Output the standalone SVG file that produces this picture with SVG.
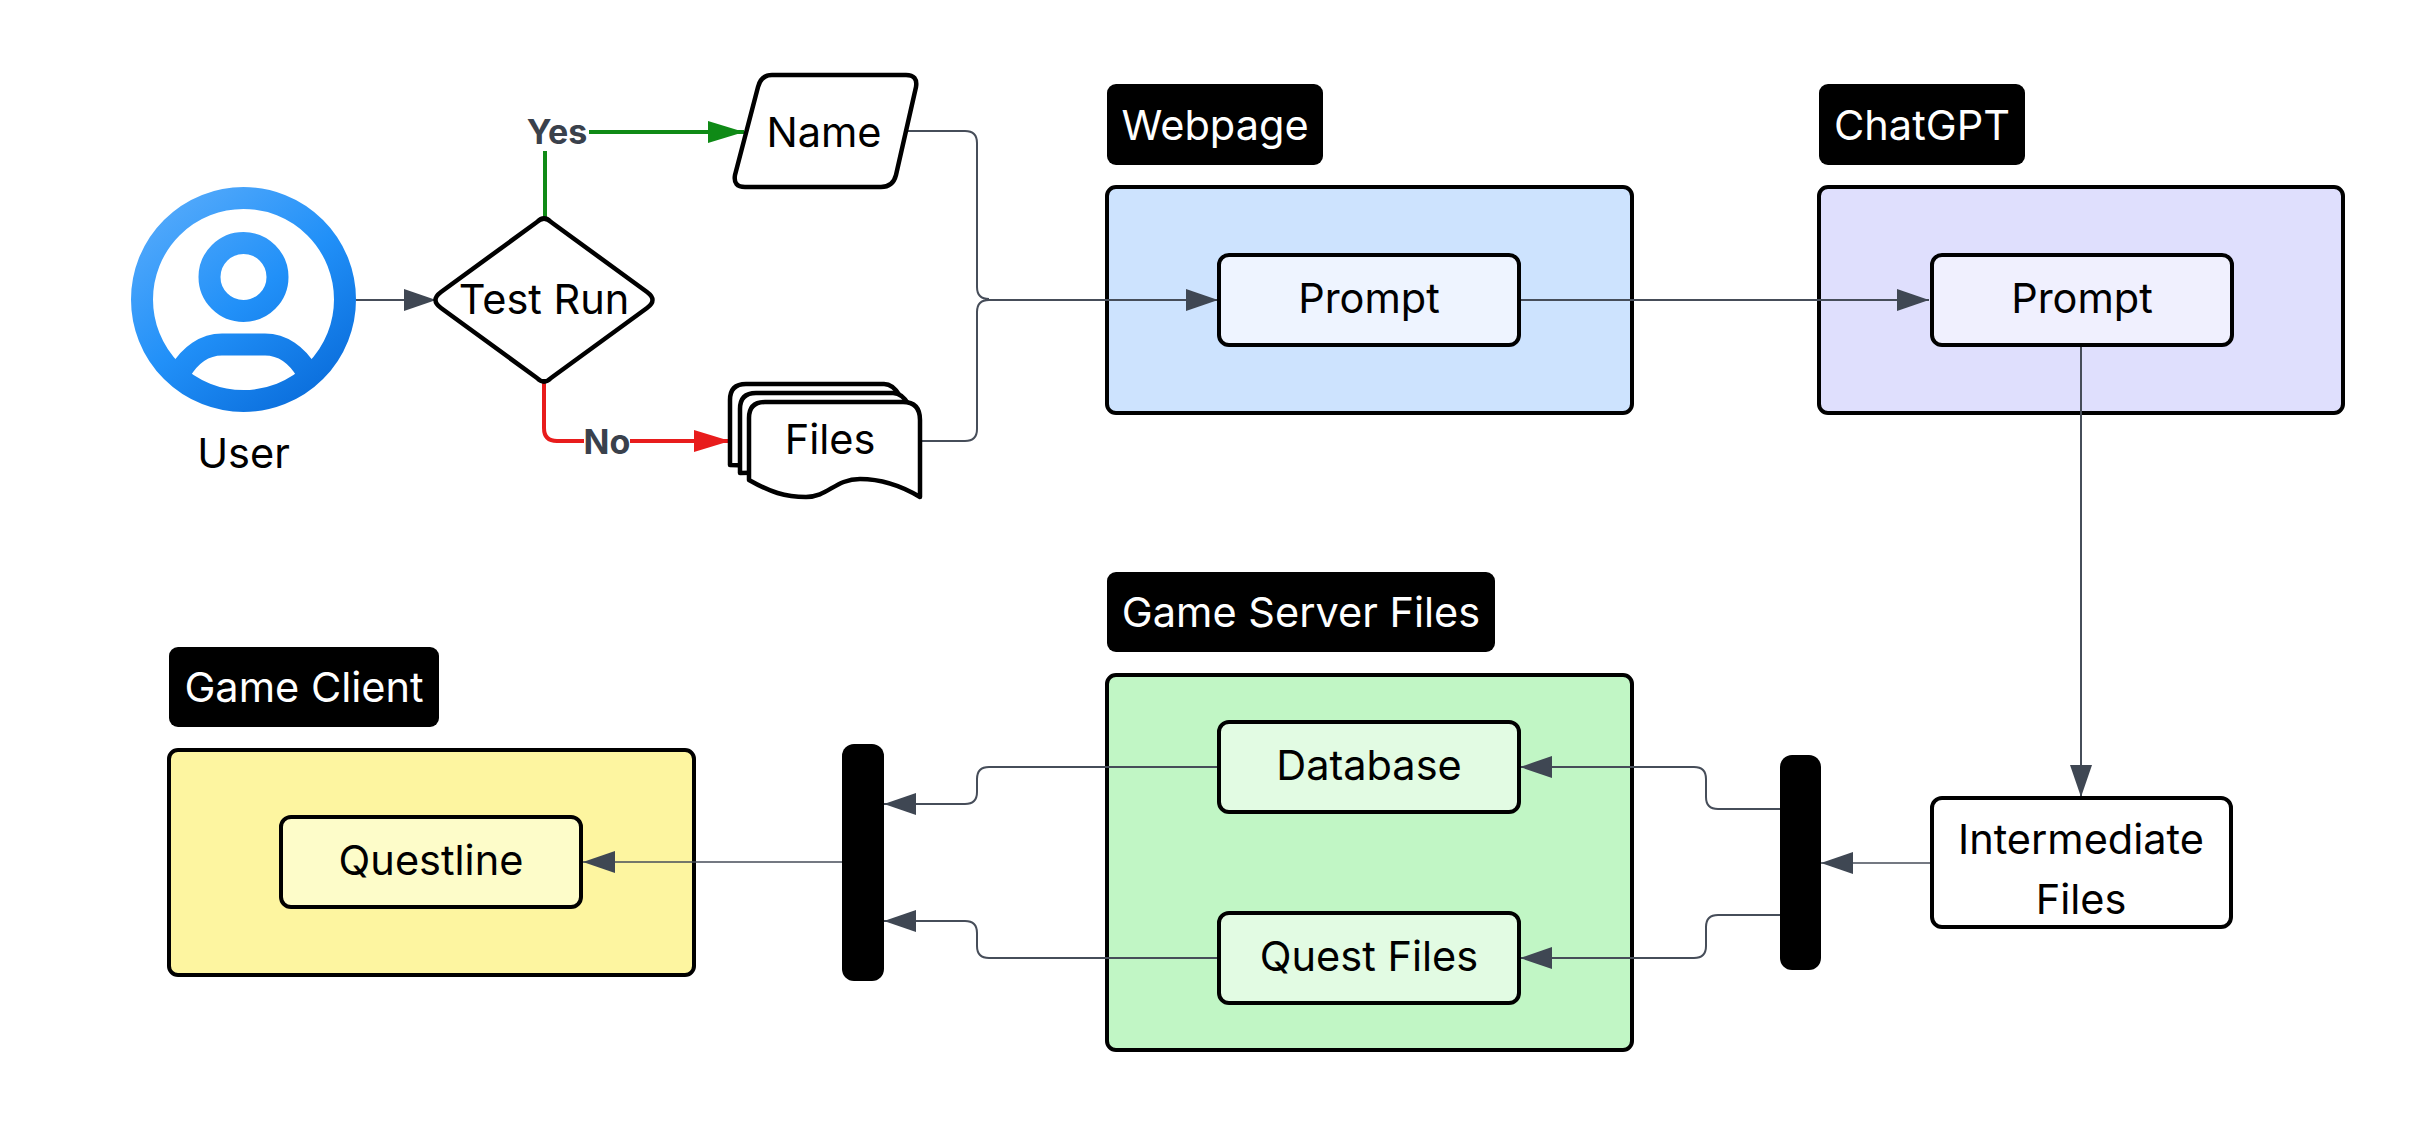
<svg xmlns="http://www.w3.org/2000/svg" width="2419" height="1125" viewBox="0 0 2419 1125">
<style>
text{font-family:Inter,"Noto Sans","Liberation Sans",sans-serif;font-size:41.500px;fill:#000;text-anchor:middle;dominant-baseline:central}
.t{fill:#fff}
.e{font-weight:700;font-size:34px;fill:#3a414c}
.lab{fill:#000}
.box{stroke:#000;stroke-width:4}
.shp{fill:#fff;stroke:#000;stroke-width:4.500;stroke-linejoin:round}
.c{fill:none;stroke:#464d59;stroke-width:2}
.th{stroke-width:1.500}
.u{fill:none;stroke:url(#ug);stroke-width:22}
</style>
<defs>
<linearGradient id="ug" gradientUnits="userSpaceOnUse" x1="170" y1="200" x2="320" y2="400"><stop offset="0" stop-color="#52a9fb"/><stop offset="0.5" stop-color="#2190f8"/><stop offset="1" stop-color="#0a6ddb"/></linearGradient>
<marker id="ag" markerUnits="userSpaceOnUse" markerWidth="32" markerHeight="22" refX="32" refY="11" orient="auto"><path d="M0 0L32 11L0 22Z" fill="#3f4753"/></marker>
<marker id="agr" markerUnits="userSpaceOnUse" markerWidth="36" markerHeight="22" refX="36" refY="11" orient="auto"><path d="M0 0L36 11L0 22Z" fill="#0f8a16"/></marker>
<marker id="ard" markerUnits="userSpaceOnUse" markerWidth="36" markerHeight="22" refX="36" refY="11" orient="auto"><path d="M0 0L36 11L0 22Z" fill="#e81c1c"/></marker>
</defs>
<rect width="2419" height="1125" fill="#fff"/>

<g id="groups">
<g id="webpage-group"><rect class="lab" x="1107" y="84" width="216" height="81" rx="9"/><text class="t" x="1215" y="125">Webpage</text><rect class="box" x="1107" y="187" width="525" height="226" rx="9" fill="#cde3fe"/></g>
<g id="chatgpt-group"><rect class="lab" x="1819" y="84" width="206" height="81" rx="9"/><text class="t" x="1922" y="125">ChatGPT</text><rect class="box" x="1819" y="187" width="524" height="226" rx="9" fill="#dfdffd"/></g>
<g id="server-group"><rect class="lab" x="1107" y="572" width="388" height="80" rx="9"/><text class="t" x="1301" y="612">Game Server Files</text><rect class="box" x="1107" y="675" width="525" height="375" rx="9" fill="#c1f6c5"/></g>
<g id="client-group"><rect class="lab" x="169" y="647" width="270" height="80" rx="9"/><text class="t" x="304" y="687">Game Client</text><rect class="box" x="169" y="750" width="525" height="225" rx="9" fill="#fdf5a0"/></g>
</g>

<g id="connectors">
<path class="c" marker-end="url(#ag)" d="M356 300H436"/>
<path class="c" style="stroke:#0f8a16;stroke-width:4" marker-end="url(#agr)" d="M545 218V132H744"/>
<path class="c" style="stroke:#e81c1c;stroke-width:4" marker-end="url(#ard)" d="M544 382V428Q544 441 557 441H730"/>
<path class="c" d="M906 131H965Q977 131 977 143V287Q977 299 989 299"/>
<path class="c" d="M921 441H965Q977 441 977 429V312Q977 300 989 300"/>
<path class="c" marker-end="url(#ag)" d="M985 300H1218"/>
<path class="c" marker-end="url(#ag)" d="M1519 300H1929"/>
<path class="c" marker-end="url(#ag)" d="M2081 346V797"/>
<path class="c th" marker-end="url(#ag)" d="M1931 863H1821"/>
<path class="c" marker-end="url(#ag)" d="M1780 809H1718Q1706 809 1706 797V779Q1706 767 1694 767H1520"/>
<path class="c" marker-end="url(#ag)" d="M1780 915H1718Q1706 915 1706 927V946Q1706 958 1694 958H1520"/>
<path class="c" marker-end="url(#ag)" d="M1217 767H989Q977 767 977 779V792Q977 804 965 804H884"/>
<path class="c" marker-end="url(#ag)" d="M1217 958H989Q977 958 977 946V933Q977 921 965 921H884"/>
<path class="c th" marker-end="url(#ag)" d="M842 862H583"/>
</g>

<g id="edge-labels">
<g id="label-yes"><rect x="527" y="112" width="62" height="39" fill="#fff"/><text class="e" x="557" y="131">Yes</text></g>
<g id="label-no"><rect x="584" y="424" width="46" height="34" fill="#fff"/><text class="e" x="607" y="441">No</text></g>
</g>

<g id="user">
<circle class="u" cx="243.5" cy="299.5" r="101.5"/>
<circle class="u" cx="243.5" cy="277" r="34"/>
<path class="u" d="M180 372C190 355 205 344.5 222 344.5H265C282 344.5 297 355 307 372"/>
<text x="243.500" y="453">User</text>
</g>
<g id="test-run"><path class="shp" d="M537 222Q544 215 551 222L647 292Q658 300 647 308L551 378Q544 385 537 378L441 308Q430 300 441 292Z"/><text x="544" y="299">Test Run</text></g>
<g id="name"><path class="shp" d="M772 75H906Q918 75 916 87L896 175Q893 187 881 187H745Q733 187 735 175L758 87Q761 75 772 75Z"/><text x="824" y="132">Name</text></g>
<g id="files">
<path class="shp" d="M730 465V400Q730 384 746 384H884Q893 384 900 396V470L730 465Z"/>
<path class="shp" d="M740 473V409Q740 393 756 393H893Q902 393 909 405V470L740 473Z"/>
<path class="shp" d="M749 480V418Q749 402 765 402H903Q920 402 920 420V497C905 488 885 479 860 479C835 479 828 497 806 497C785 497 770 492 749 480Z"/>
<text x="830" y="439">Files</text>
</g>
<g id="prompt-1"><rect class="box" x="1219" y="255" width="300" height="90" rx="10" fill="#eef4ff"/><text x="1369" y="298">Prompt</text></g>
<g id="prompt-2"><rect class="box" x="1932" y="255" width="300" height="90" rx="10" fill="#f0f0fe"/><text x="2082" y="298">Prompt</text></g>
<g id="intermediate"><rect class="box" x="1932" y="798" width="299" height="129" rx="10" fill="#fff"/><text x="2081" y="839">Intermediate</text><text x="2081" y="899">Files</text></g>
<g id="bar-right"><rect x="1780" y="755" width="41" height="215" rx="12" fill="#000"/></g>
<g id="database"><rect class="box" x="1219" y="722" width="300" height="90" rx="10" fill="#e2fbe3"/><text x="1369" y="765">Database</text></g>
<g id="quest-files"><rect class="box" x="1219" y="913" width="300" height="90" rx="10" fill="#e2fbe3"/><text x="1369" y="956">Quest Files</text></g>
<g id="bar-left"><rect x="842" y="744" width="42" height="237" rx="12" fill="#000"/></g>
<g id="questline"><rect class="box" x="281" y="817" width="300" height="90" rx="10" fill="#fdfcc9"/><text x="431" y="860">Questline</text></g>
</svg>
